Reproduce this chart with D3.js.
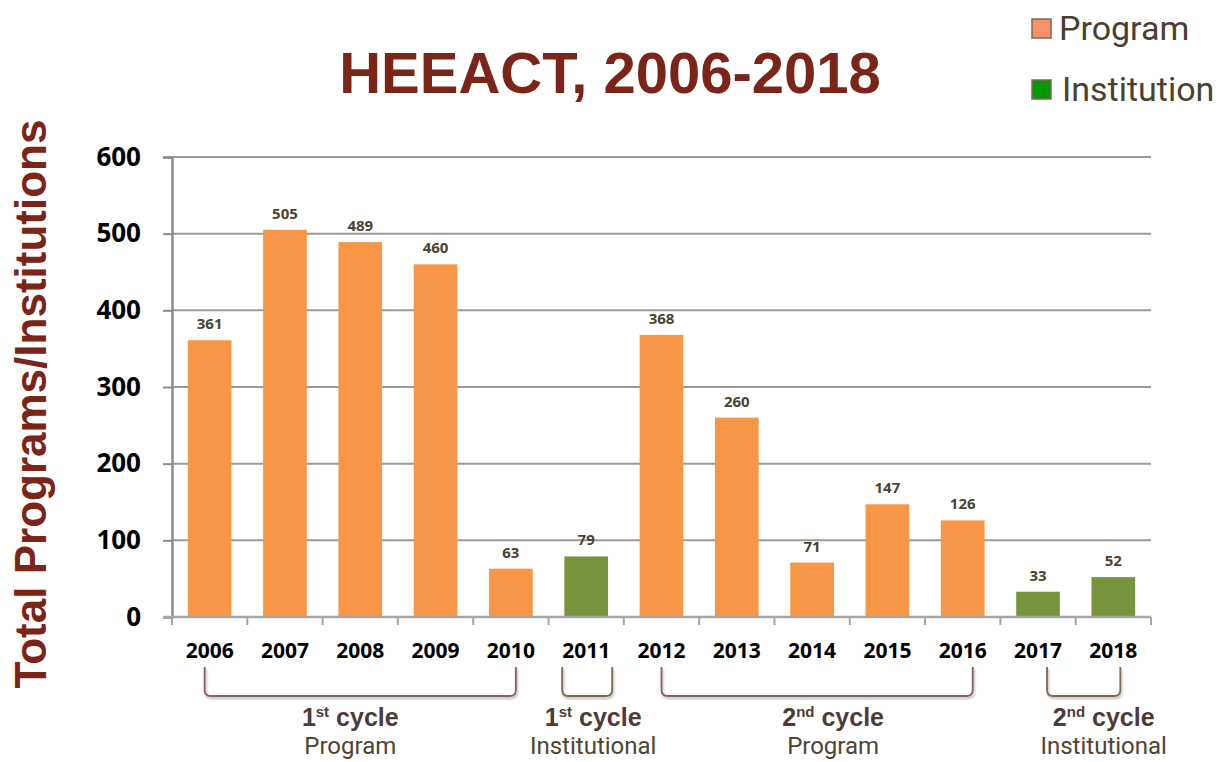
<!DOCTYPE html>
<html>
<head>
<meta charset="utf-8">
<script src="https://cdn.jsdelivr.net/npm/d3@7"></script>
<style>
  body { margin: 0; background: #fff; }
  svg { display: block; }
</style>
</head>
<body>
<div id="chart"></div>
<script>
const years = ['2006', '2007', '2008', '2009', '2010', '2011', '2012', '2013', '2014', '2015', '2016', '2017', '2018'];
const counts = [361, 505, 489, 460, 63, 79, 368, 260, 71, 147, 126, 33, 52];
const kinds = ['Program', 'Program', 'Program', 'Program', 'Program', 'Institution', 'Program', 'Program', 'Program', 'Program', 'Program', 'Institution', 'Institution'];
const yTicks = [0, 100, 200, 300, 400, 500, 600];
const cycles = [
    { from: '2006', to: '2010', ord: '1', sup: 'st', sub: 'Program', kind: 'Program' },
    { from: '2011', to: '2011', ord: '1', sup: 'st', sub: 'Institutional', kind: 'Institution' },
    { from: '2012', to: '2016', ord: '2', sup: 'nd', sub: 'Program', kind: 'Program' },
    { from: '2017', to: '2018', ord: '2', sup: 'nd', sub: 'Institutional', kind: 'Institution' }
];

// bracket layout (pixel nudges from the bar centres, and label shift)
const bracketPad = [[-5, 5], [-24, 26], [0, 10], [9, 7]];
const labelShift = [-10, 6, 16, 20];

const width = 1221, height = 762;
const margin = { top: 157, right: 70, bottom: 145, left: 172 };
const innerW = width - margin.left - margin.right;
const innerH = height - margin.top - margin.bottom;

const barColor = { Program: '#f79646', Institution: '#77933c' };
const legendColor = { Program: '#f4926a', Institution: '#009a00' };
const bracketColor = { Program: '#8a6060', Institution: '#7d6d4e' };

const svg = d3.select('#chart').append('svg')
    .attr('width', width)
    .attr('height', height);

const defs = svg.append('defs');
const shadow = defs.append('filter').attr('id', 'shadow').attr('x', '-10%').attr('y', '-30%').attr('width', '120%').attr('height', '160%');
shadow.append('feDropShadow').attr('dx', 1).attr('dy', 2).attr('stdDeviation', 1.2).attr('flood-color', '#000').attr('flood-opacity', 0.3);

// Title
svg.append('text')
    .attr('x', 610)
    .attr('y', 93)
    .attr('text-anchor', 'middle')
    .style('font-family', 'Liberation Sans, Arial, sans-serif')
    .style('font-weight', 'bold')
    .style('font-size', '58px')
    .attr('fill', '#7b2418')
    .text('HEEACT, 2006-2018');

// Y axis title
svg.append('text')
    .attr('transform', 'translate(46,404) rotate(-90)')
    .attr('text-anchor', 'middle')
    .style('font-family', 'Liberation Sans, Arial, sans-serif')
    .style('font-weight', 'bold')
    .style('font-size', '44px')
    .attr('fill', '#7b2418')
    .text('Total Programs/Institutions');

const g = svg.append('g')
    .attr('transform', `translate(${margin.left},${margin.top})`);

const x = d3.scaleBand()
    .domain(years)
    .range([0, innerW])
    .paddingInner(0.42)
    .paddingOuter(0.21);

const y = d3.scaleLinear()
    .domain([0, 600])
    .range([innerH, 0]);

// Gridlines
g.append('g')
    .selectAll('line')
    .data(yTicks.slice(1))
    .join('line')
    .attr('x1', 0)
    .attr('x2', innerW)
    .attr('y1', d => y(d))
    .attr('y2', d => y(d))
    .attr('stroke', '#9a9a9a')
    .attr('stroke-width', 2);

// Y axis
const yAxis = g.append('g')
    .call(d3.axisLeft(y).tickValues(yTicks).tickSize(9).tickPadding(22));
yAxis.select('.domain').attr('stroke', '#8c8c8c').attr('stroke-width', 2.5);
yAxis.selectAll('.tick line').attr('stroke', '#8c8c8c').attr('stroke-width', 2);
yAxis.selectAll('.tick text')
    .style('font-family', 'Open Sans, Lato, sans-serif')
    .style('font-weight', 'bold')
    .style('font-size', '26px')
    .attr('fill', '#000');

// Bars
g.selectAll('.bar')
    .data(years)
    .join('rect')
    .attr('class', 'bar')
    .attr('x', d => x(d))
    .attr('y', (d, i) => y(counts[i]))
    .attr('width', x.bandwidth())
    .attr('height', (d, i) => innerH - y(counts[i]))
    .attr('fill', (d, i) => barColor[kinds[i]]);

// Data labels
g.selectAll('.value')
    .data(years)
    .join('text')
    .attr('class', 'value')
    .attr('x', d => x(d) + x.bandwidth() / 2)
    .attr('y', (d, i) => y(counts[i]) - 11)
    .attr('text-anchor', 'middle')
    .style('font-family', 'Open Sans, Lato, sans-serif')
    .style('font-weight', 'bold')
    .style('font-size', '15px')
    .attr('fill', '#4a4431')
    .text((d, i) => counts[i]);

// X axis with ticks at category boundaries
const step = x.step();
const xAxis = g.append('g').attr('transform', `translate(0,${innerH})`);
xAxis.append('line')
    .attr('x1', -9)
    .attr('x2', innerW)
    .attr('stroke', '#a6a6a6')
    .attr('stroke-width', 2.5);
xAxis.selectAll('.bound')
    .data(d3.range(years.length + 1))
    .join('line')
    .attr('class', 'bound')
    .attr('x1', d => x(years[0]) - x.paddingOuter() * step + d * step)
    .attr('x2', d => x(years[0]) - x.paddingOuter() * step + d * step)
    .attr('y1', 0)
    .attr('y2', 8)
    .attr('stroke', '#a6a6a6')
    .attr('stroke-width', 2);
xAxis.selectAll('.year')
    .data(years)
    .join('text')
    .attr('class', 'year')
    .attr('x', d => x(d) + x.bandwidth() / 2)
    .attr('y', 41)
    .attr('text-anchor', 'middle')
    .style('font-family', 'Open Sans, Lato, sans-serif')
    .style('font-weight', 'bold')
    .style('font-size', '21px')
    .attr('fill', '#000')
    .text(d => d);

// Cycle brackets
const center = d => x(d) + x.bandwidth() / 2;
const bracket = g.append('g');
cycles.forEach((c, i) => {
    const x0 = center(c.from) + bracketPad[i][0];
    const x1 = center(c.to) + bracketPad[i][1];
    const top = innerH + 50, bot = innerH + 79, r = 6;
    bracket.append('path')
        .attr('d', `M${x0},${top} V${bot - r} Q${x0},${bot} ${x0 + r},${bot} H${x1 - r} Q${x1},${bot} ${x1},${bot - r} V${top}`)
        .attr('fill', 'none')
        .attr('stroke', bracketColor[c.kind])
        .attr('stroke-width', 1.8)
        .attr('filter', 'url(#shadow)');
    const cx = (x0 + x1) / 2 + labelShift[i];
    const t = bracket.append('text')
        .attr('x', cx)
        .attr('y', innerH + 109)
        .attr('text-anchor', 'middle')
        .style('font-family', 'Liberation Sans, Arial, sans-serif')
        .style('font-weight', 'bold')
        .style('font-size', '25px')
        .attr('fill', '#4e3b38');
    t.append('tspan').text(c.ord);
    t.append('tspan').attr('dy', -9).style('font-size', '15px').text(c.sup);
    t.append('tspan').attr('dy', 9).text(' cycle');
    bracket.append('text')
        .attr('x', cx)
        .attr('y', innerH + 137)
        .attr('text-anchor', 'middle')
        .style('font-family', 'Roboto, sans-serif')
        .style('font-size', '24px')
        .attr('fill', '#4f4334')
        .text(c.sub);
});

// Legend
const legendItems = ['Program', 'Institution'];
const legend = svg.append('g');
legendItems.forEach((k, i) => {
    const ly = 19 + i * 61;
    legend.append('rect')
        .attr('x', 1032)
        .attr('y', ly)
        .attr('width', 19)
        .attr('height', 19)
        .attr('fill', legendColor[k])
        .attr('stroke', '#7d6a55')
        .attr('stroke-width', 1.5);
    legend.append('text')
        .attr('x', 1059 + i * 3)
        .attr('y', ly + 21)
        .style('font-family', 'Roboto, sans-serif')
        .style('font-size', '34px')
        .attr('fill', '#4a4030')
        .text(k);
});
</script>
</body>
</html>
